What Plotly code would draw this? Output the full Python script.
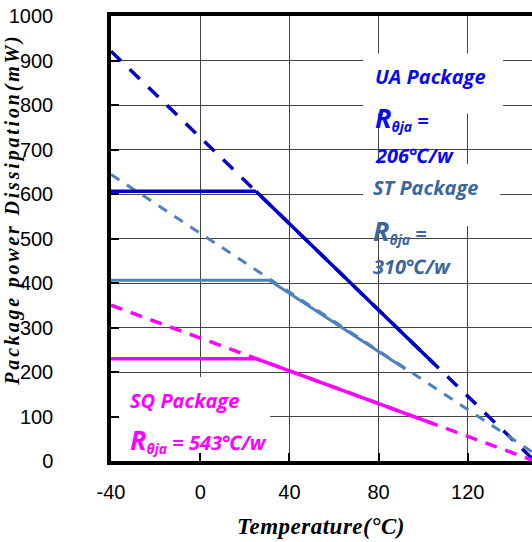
import plotly.graph_objects as go

# ---- data ----
temp_ticks = [-40, 0, 40, 80, 120]
power_ticks = [0, 100, 200, 300, 400, 500, 600, 700, 800, 900, 1000]

ua_flat_x = [-40, 25];   ua_flat_y = [606, 606]
ua_solid_x = [25, 105];  ua_solid_y = [606, 218]
ua_dash_x = [-40, 150];  ua_dash_y = [921, 0]

st_flat_x = [-40, 31];   st_flat_y = [406, 406]
st_solid_x = [31, 92];   st_solid_y = [406, 207]
st_dash_x = [-40, 155];  st_dash_y = [644, 0]

sq_flat_x = [-40, 25];   sq_flat_y = [230, 230]
sq_solid_x = [25, 105];  sq_solid_y = [230, 83]
sq_dash_x = [-40, 150];  sq_dash_y = [350, 0]

UA_LINE = "#0000C8"
ST_LINE = "#4F81BD"
SQ_LINE = "#FF00FF"
UA_TEXT = "#0A0AF0"
ST_TEXT = "#3C679E"
SQ_TEXT = "#FF00FF"

fig = go.Figure()

def add(x, y, color, width, dash=None):
    fig.add_trace(go.Scatter(x=x, y=y, mode="lines", showlegend=False, hoverinfo="skip",
                             line=dict(color=color, width=width, dash=dash or "solid")))

add(ua_dash_x, ua_dash_y, UA_LINE, 3.5, "14px,12px")
add(st_dash_x, st_dash_y, ST_LINE, 3, "10px,9px")
add(sq_dash_x, sq_dash_y, SQ_LINE, 3.5, "12px,9px")
add(ua_flat_x, ua_flat_y, UA_LINE, 3.5)
add(ua_solid_x, ua_solid_y, UA_LINE, 3.5)
add(st_flat_x, st_flat_y, ST_LINE, 3)
add(st_solid_x, st_solid_y, ST_LINE, 3)
add(sq_flat_x, sq_flat_y, SQ_LINE, 3.5)
add(sq_solid_x, sq_solid_y, SQ_LINE, 3.5)

# white text boxes (cover gridlines, under the lines)
for x0, x1, y0, y1 in [(73.1, 135.8, 781, 916), (73.1, 134.5, 528, 668), (-36.7, 31.4, 12, 189)]:
    fig.add_shape(type="rect", x0=x0, x1=x1, y0=y0, y1=y1, xref="x", yref="y",
                  fillcolor="white", line=dict(width=0), layer="between")

ann_font = dict(family="Open Sans, Noto Sans, sans-serif", size=20, weight="bold", style="italic")
big_r = "<span style='font-size:27px'>R</span><sub>θja</sub>"
texts = [
    ("UA Package", 77.6, 864, UA_TEXT),
    (big_r + " =", 77.6, 772, UA_TEXT),
    ("206℃/w", 77.6, 687, UA_TEXT),
    ("ST Package", 76.8, 615, ST_TEXT),
    (big_r + " =", 76.8, 519, ST_TEXT),
    ("310℃/w", 76.8, 438, ST_TEXT),
    ("SQ Package", -32.6, 135, SQ_TEXT),
    (big_r + " = 543℃/w", -32.6, 48, SQ_TEXT),
]
for t, x, y, c in texts:
    fig.add_annotation(text=t, x=x, y=y, xref="x", yref="y", xanchor="left", yanchor="middle",
                       showarrow=False, font=dict(ann_font, color=c))

title_font = dict(family="Liberation Serif, Times New Roman, serif", weight="bold",
                  style="italic", color="black")
fig.add_annotation(text="<span style='letter-spacing:2.8px'>Package power Dissipation(mW)</span>",
                   xref="paper", yref="paper",
                   x=-0.236, y=0.564, textangle=-90, showarrow=False,
                   xanchor="center", yanchor="middle", font=dict(title_font, size=20))
fig.add_annotation(text="<span style='letter-spacing:0.5px'>Temperature(°C)</span>",
                   xref="paper", yref="paper",
                   x=0.499, y=-0.148, showarrow=False,
                   xanchor="center", yanchor="middle", font=dict(title_font, size=23))

tick_font = dict(family="Liberation Sans, Arial, sans-serif", size=20, color="black")
fig.update_xaxes(range=[-40, 148.8], tickvals=temp_ticks, ticktext=[str(v) for v in temp_ticks],
                 showgrid=True, gridcolor="#444444", gridwidth=1,
                 showline=True, linecolor="black", linewidth=3.5, mirror=True,
                 ticks="inside", ticklen=8, tickwidth=1.5, tickcolor="black",
                 ticklabelstandoff=10, tickfont=tick_font, zeroline=False)
fig.update_yaxes(range=[0, 1000], tickvals=power_ticks, ticktext=[str(v) for v in power_ticks],
                 showgrid=True, gridcolor="#444444", gridwidth=1,
                 showline=True, linecolor="black", linewidth=3.5,
                 ticks="inside", ticklen=8, tickwidth=1.5, tickcolor="black",
                 ticklabelstandoff=50, tickfont=tick_font, zeroline=False)

fig.update_layout(width=532, height=542, margin=dict(l=111, r=0, t=16, b=81),
                  plot_bgcolor="white", paper_bgcolor="white")

fig.write_html("out.html", config={"displayModeBar": False},
               post_script="document.body.style.margin='0px';document.body.style.overflow='hidden';")
